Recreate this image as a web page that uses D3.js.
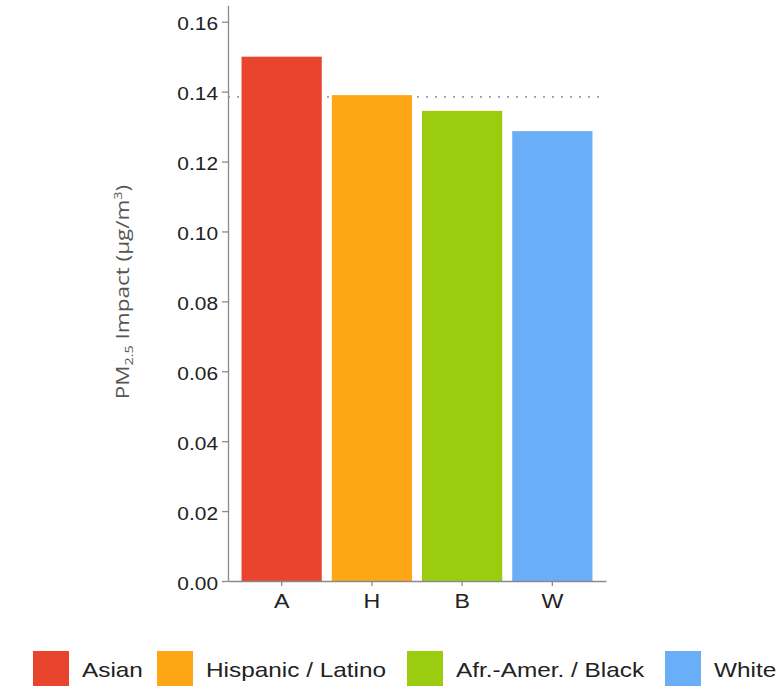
<!DOCTYPE html>
<html>
<head>
<meta charset="utf-8">
<script src="https://cdn.jsdelivr.net/npm/d3@7"></script>
<style>
  html, body { margin: 0; padding: 0; background: #fff; }
  svg { display: block; }
</style>
</head>
<body>
<script>
// Population-weighted PM2.5 impact by race/ethnicity
const codes = ["A", "H", "B", "W"];
const groups = ["Asian", "Hispanic / Latino", "Afr.-Amer. / Black", "White"];
const impacts = [0.150, 0.139, 0.1345, 0.1287];
const colors = ["#E8442E", "#FFA616", "#9CCC10", "#6AAEF8"];
const yTicks = [0.00, 0.02, 0.04, 0.06, 0.08, 0.10, 0.12, 0.14, 0.16];
const averageImpact = 0.1385;

const W = 783, H = 698;
const stretch = 1.16; // horizontal text widening

const svg = d3.select("body").append("svg")
  .attr("width", W).attr("height", H);

const x = d3.scaleBand()
  .domain(codes)
  .range([228, 606])
  .paddingInner(0.111)
  .paddingOuter(0.15);

const y = d3.scaleLinear()
  .domain([0, 0.1647])
  .range([581, 5.3]);

// average reference line, behind the bars
svg.append("line")
  .attr("x1", x.range()[0]).attr("x2", 601)
  .attr("y1", y(averageImpact)).attr("y2", y(averageImpact))
  .attr("stroke", "#9a9a9a")
  .attr("stroke-width", 1.6)
  .attr("stroke-dasharray", "2,7");

// bars
svg.append("g").selectAll("rect")
  .data(codes)
  .join("rect")
  .attr("x", d => x(d))
  .attr("width", x.bandwidth())
  .attr("y", (d, i) => y(impacts[i]))
  .attr("height", (d, i) => y(0) - y(impacts[i]))
  .attr("fill", (d, i) => colors[i]);

// y axis
const yAxis = svg.append("g")
  .attr("transform", `translate(${x.range()[0]},0)`)
  .call(d3.axisLeft(y).tickValues(yTicks).tickFormat(d3.format(".2f")).tickSize(6).tickSizeOuter(0).tickPadding(4));
yAxis.select(".domain").attr("stroke", "#8a8a8a").attr("stroke-width", 1.3);
yAxis.selectAll(".tick line").attr("stroke", "#8a8a8a").attr("stroke-width", 1.3);
yAxis.selectAll(".tick text")
  .attr("font-family", "Liberation Sans, Arial, sans-serif")
  .attr("font-size", 18)
  .attr("fill", "#222")
  .attr("dy", "0.45em")
  .each(function () {
    const t = d3.select(this);
    const tx = +t.attr("x");
    t.attr("x", 0).attr("transform", `translate(${tx},0) scale(${stretch},1)`);
  });

// x axis
const xAxis = svg.append("g")
  .attr("transform", `translate(0,${y(0)})`)
  .call(d3.axisBottom(x).tickSize(5).tickSizeOuter(0).tickPadding(6));
xAxis.select(".domain").attr("stroke", "#8a8a8a").attr("stroke-width", 1.3);
xAxis.selectAll(".tick line").attr("stroke", "#8a8a8a").attr("stroke-width", 1.3);
xAxis.selectAll(".tick text")
  .attr("font-family", "Liberation Sans, Arial, sans-serif")
  .attr("font-size", 20)
  .attr("fill", "#222")
  .attr("dy", "0.8em")
  .attr("transform", `scale(${stretch},1)`);

// y axis title
const title = svg.append("text")
  .attr("transform", "translate(129,292) rotate(-90) scale(1.25,1)")
  .attr("text-anchor", "middle")
  .attr("font-family", "Open Sans, sans-serif")
  .attr("font-size", 18)
  .attr("fill", "#555");
title.append("tspan").text("PM");
title.append("tspan").attr("font-size", 11.5).attr("dy", 4).text("2.5");
title.append("tspan").attr("dy", -4).text(" Impact (µg/m");
title.append("tspan").attr("font-size", 11.5).attr("dy", -7).text("3");
title.append("tspan").attr("dy", 7).text(")");

// legend
const legendX = [33, 157, 407, 665];
const legend = svg.append("g");
groups.forEach((g, i) => {
  legend.append("rect")
    .attr("x", legendX[i]).attr("y", 651)
    .attr("width", 36).attr("height", 35)
    .attr("fill", colors[i]);
  legend.append("text")
    .attr("transform", `translate(${legendX[i] + 49},677) scale(${stretch},1)`)
    .attr("font-family", "Liberation Sans, Arial, sans-serif")
    .attr("font-size", 21)
    .attr("fill", "#222")
    .text(g);
});
</script>
</body>
</html>
